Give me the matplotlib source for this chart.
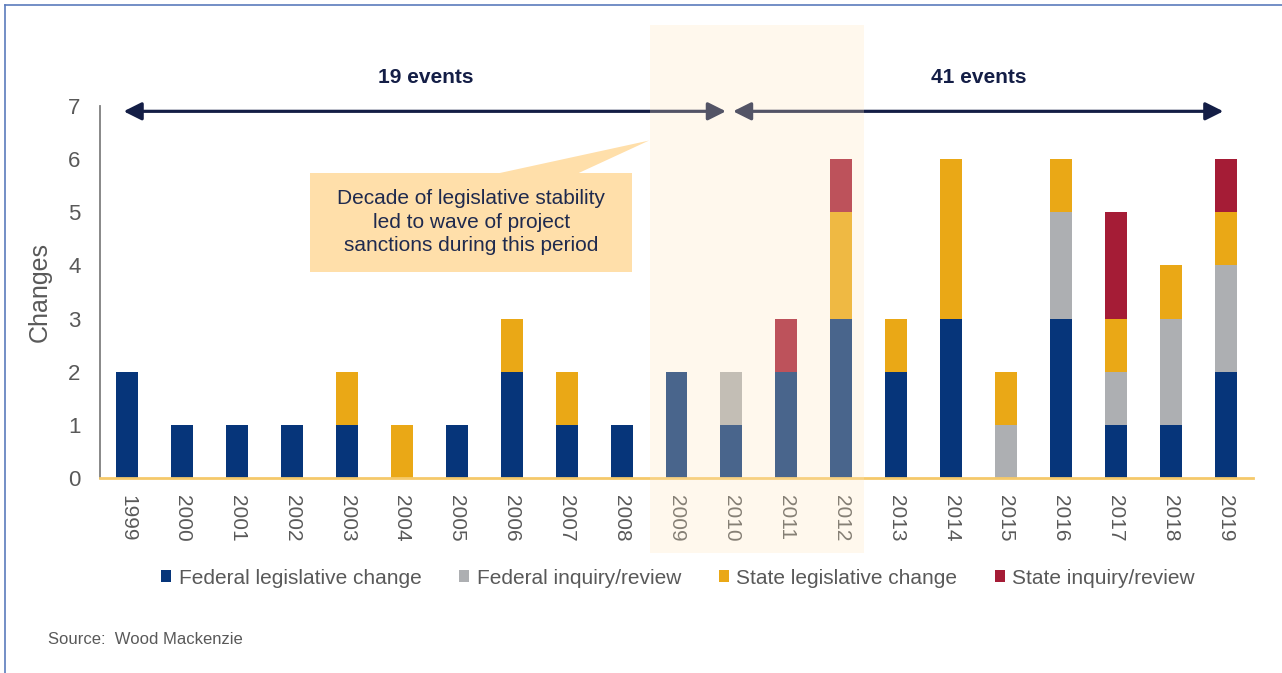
import matplotlib
matplotlib.use('Agg')
import matplotlib.pyplot as plt
import numpy as np
from matplotlib.patches import Patch, Polygon, Rectangle
from matplotlib.lines import Line2D

plt.rcParams['font.family'] = ['Liberation Sans', 'DejaVu Sans']

years = ['1999', '2000', '2001', '2002', '2003', '2004', '2005', '2006', '2007', '2008',
         '2009', '2010', '2011', '2012', '2013', '2014', '2015', '2016', '2017', '2018', '2019']
federal_leg = [2, 1, 1, 1, 1, 0, 1, 2, 1, 1, 2, 1, 2, 3, 2, 3, 0, 3, 1, 1, 2]
federal_inq = [0, 0, 0, 0, 0, 0, 0, 0, 0, 0, 0, 1, 0, 0, 0, 0, 1, 2, 1, 2, 2]
state_leg = [0, 0, 0, 0, 1, 1, 0, 1, 1, 0, 0, 0, 0, 2, 1, 3, 1, 1, 1, 1, 1]
state_inq = [0, 0, 0, 0, 0, 0, 0, 0, 0, 0, 0, 0, 1, 1, 0, 0, 0, 0, 2, 0, 1]

series = [
    ('Federal legislative change', federal_leg, '#06357A'),
    ('Federal inquiry/review', federal_inq, '#ADAFB2'),
    ('State legislative change', state_leg, '#EAA816'),
    ('State inquiry/review', state_inq, '#A51C36'),
]

W, H = 1282, 673
fig = plt.figure(figsize=(W / 100, H / 100), dpi=100)
ax = fig.add_axes([100 / W, 1 - 478 / H, 1153 / W, 372 / H])

x = np.arange(len(years))
bottom = np.zeros(len(years))
for name, vals, col in series:
    ax.bar(x, vals, 0.4, bottom=bottom, color=col, zorder=2)
    bottom += np.array(vals)

ax.set_xlim(-0.5, len(years) - 0.5)
ax.set_ylim(0, 7)
ax.set_yticks(range(8))
ax.set_xticks(x)
ax.set_xticklabels(years, rotation=270)
ax.tick_params(axis='both', length=0, labelsize=15, labelcolor='#595959')
ax.tick_params(axis='y', pad=14, labelsize=16)
ax.tick_params(axis='x', pad=12)
for s in ['top', 'right']:
    ax.spines[s].set_visible(False)
ax.spines['left'].set_color('#7F7F7F')
ax.spines['left'].set_linewidth(1.3)
ax.spines['bottom'].set_color('#F5C96A')
ax.spines['bottom'].set_linewidth(2)
ax.set_ylabel('Changes', fontsize=18, color='#595959')
ax.yaxis.set_label_coords(-0.042, 0.5)

# period arrows
arrow_col = '#141E46'
astyle = '<|-|>,head_length=0.6,head_width=0.3'
ax.annotate('', xy=(-0.07, 6.9), xytext=(10.9, 6.9), annotation_clip=False,
            arrowprops=dict(arrowstyle=astyle, mutation_scale=18, lw=2.3,
                            color=arrow_col, shrinkA=0, shrinkB=0))
ax.annotate('', xy=(11.03, 6.9), xytext=(19.96, 6.9), annotation_clip=False,
            arrowprops=dict(arrowstyle=astyle, mutation_scale=18, lw=2.3,
                            color=arrow_col, shrinkA=0, shrinkB=0))
ax.text(5.44, 7.53, '19 events', ha='center', va='center', fontsize=15,
        fontweight='bold', color=arrow_col, clip_on=False)
ax.text(15.5, 7.53, '41 events', ha='center', va='center', fontsize=15,
        fontweight='bold', color=arrow_col, clip_on=False)

# callout
box_col = '#FFDFAA'
ax.add_patch(Rectangle((3.33, 3.88), 5.86, 1.86, facecolor=box_col,
                       edgecolor='none', zorder=3, clip_on=False))
ax.add_patch(Polygon([(6.74, 5.73), (8.2, 5.73), (9.5, 6.35)], closed=True,
                     facecolor=box_col, edgecolor='none', zorder=3, clip_on=False))
ax.text(6.26, 4.81, 'Decade of legislative stability\nled to wave of project\nsanctions during this period',
        ha='center', va='center', fontsize=15, color='#1F2A4E', linespacing=1.3,
        zorder=4)

# shaded period drawn over everything
fig.add_artist(Rectangle((650 / W, 1 - 553 / H), 214 / W, 528 / H,
                         transform=fig.transFigure, facecolor='#FFE7C0',
                         alpha=0.27, edgecolor='none', zorder=10))

# legend
handles = [Patch(facecolor=c, edgecolor='none', label=n) for n, _, c in series]
fig.legend(handles=handles, loc='center', bbox_to_anchor=(678 / W, 1 - 578 / H),
           ncol=4, frameon=False, fontsize=15, handlelength=0.5, handleheight=0.5,
           handletextpad=0.35, columnspacing=1.8, labelcolor='#595959')

fig.text(48 / W, 1 - 640 / H, 'Source:  Wood Mackenzie', fontsize=12,
         color='#595959', va='center', ha='left')

# frame lines
fig.add_artist(Line2D([5 / W, 1], [1 - 5 / H, 1 - 5 / H], transform=fig.transFigure,
                      color='#5B7CBC', lw=1.2))
fig.add_artist(Line2D([5 / W, 5 / W], [0, 1 - 5 / H], transform=fig.transFigure,
                      color='#5B7CBC', lw=1.2))

fig.savefig('out.png', dpi=100)
